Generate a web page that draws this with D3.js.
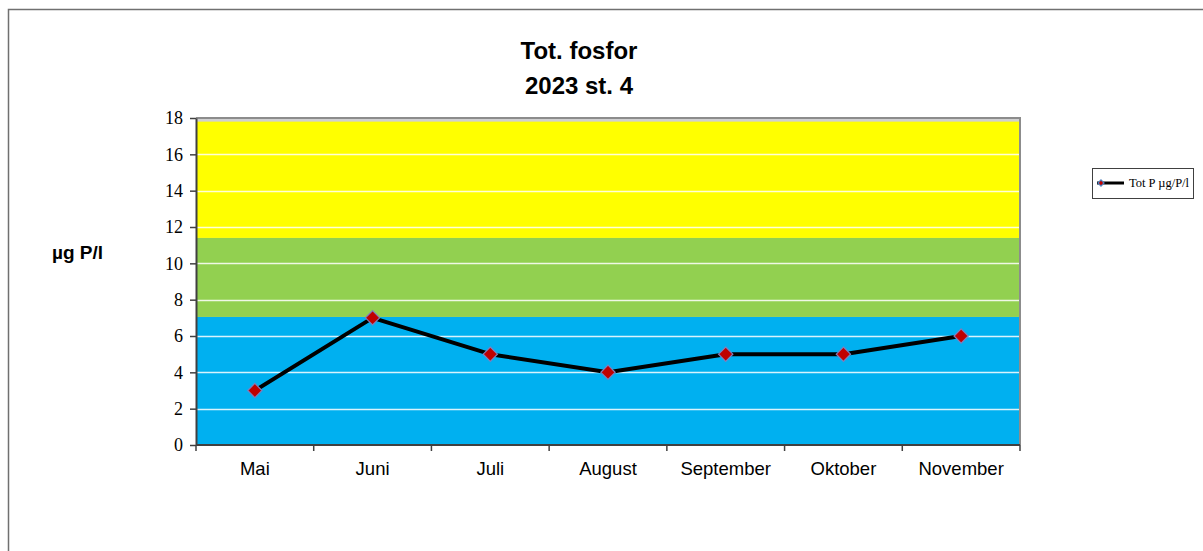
<!DOCTYPE html>
<html>
<head>
<meta charset="utf-8">
<script src="https://cdn.jsdelivr.net/npm/d3@7"></script>
<style>
  body { margin: 0; background: #fff; }
  svg { display: block; }
</style>
</head>
<body>
<div id="chart"></div>
<script>
var svgWidth = 1203;
var svgHeight = 551;

// data
var months = ["Mai", "Juni", "Juli", "August", "September", "Oktober", "November"];
var totP = [3, 7, 5, 4, 5, 5, 6];
var yTicks = [0, 2, 4, 6, 8, 10, 12, 14, 16, 18];
var bandLimits = [0, 7.05, 11.4, 17.8];
var bandColors = ["#00b0f0", "#92d050", "#ffff00"];

var plot = { left: 196, right: 1020, top: 118, bottom: 445 };

var svg = d3.select("#chart")
  .append("svg")
  .attr("width", svgWidth)
  .attr("height", svgHeight);

// outer frame (runs off the right and bottom edge)
svg.append("rect")
  .attr("x", 8.5)
  .attr("y", 9.5)
  .attr("width", 1300)
  .attr("height", 700)
  .attr("fill", "none")
  .attr("stroke", "#707070")
  .attr("stroke-width", 1.5);

var xScale = d3.scaleBand()
  .domain(months)
  .range([plot.left, plot.right]);

var yScale = d3.scaleLinear()
  .domain([0, 18])
  .range([plot.bottom, plot.top]);

// plot background
svg.append("rect")
  .attr("x", plot.left)
  .attr("y", plot.top)
  .attr("width", plot.right - plot.left)
  .attr("height", plot.bottom - plot.top)
  .attr("fill", "#d0d0d0");

// colour bands
svg.selectAll("rect.band")
  .data(bandColors)
  .enter()
  .append("rect")
  .attr("class", "band")
  .attr("x", plot.left)
  .attr("width", plot.right - plot.left)
  .attr("y", (d, i) => yScale(bandLimits[i + 1]))
  .attr("height", (d, i) => yScale(bandLimits[i]) - yScale(bandLimits[i + 1]))
  .attr("fill", d => d);

// gridlines
svg.selectAll("line.grid")
  .data(yTicks.slice(1, -1))
  .enter()
  .append("line")
  .attr("class", "grid")
  .attr("x1", plot.left)
  .attr("x2", plot.right)
  .attr("y1", d => Math.round(yScale(d)) + 0.5)
  .attr("y2", d => Math.round(yScale(d)) + 0.5)
  .attr("stroke", "#ffffff")
  .attr("stroke-opacity", 0.85)
  .attr("stroke-width", 1.5);

// top / right border
svg.append("path")
  .attr("d", `M${plot.left},${plot.top} H${plot.right} V${plot.bottom}`)
  .attr("fill", "none")
  .attr("stroke", "#8c8c8c")
  .attr("stroke-width", 2);

// y axis
var yAxis = svg.append("g")
  .attr("transform", `translate(${plot.left}, 0)`)
  .call(d3.axisLeft(yScale).tickValues(yTicks).tickSize(6).tickPadding(7).tickSizeOuter(0));
yAxis.select(".domain").attr("stroke", "#404040").attr("stroke-width", 2);
yAxis.selectAll(".tick line").attr("stroke", "#404040").attr("stroke-width", 1.5);
yAxis.selectAll("text")
  .attr("font-family", "'Liberation Serif', 'Times New Roman', serif")
  .attr("font-size", 18)
  .attr("fill", "#000");

// x axis with ticks between categories
var xAxis = svg.append("g")
  .attr("transform", `translate(0, ${plot.bottom})`);
xAxis.append("line")
  .attr("x1", plot.left)
  .attr("x2", plot.right)
  .attr("y1", 0)
  .attr("y2", 0)
  .attr("stroke", "#404040")
  .attr("stroke-width", 2);
xAxis.selectAll("line.tick")
  .data(months.map(m => xScale(m)).concat([plot.right]))
  .enter()
  .append("line")
  .attr("class", "tick")
  .attr("x1", d => d)
  .attr("x2", d => d)
  .attr("y1", 0)
  .attr("y2", 6)
  .attr("stroke", "#404040")
  .attr("stroke-width", 1.5);
xAxis.selectAll("text")
  .data(months)
  .enter()
  .append("text")
  .attr("x", d => xScale(d) + xScale.bandwidth() / 2)
  .attr("y", 30)
  .attr("text-anchor", "middle")
  .attr("font-family", "'Liberation Sans', Arial, sans-serif")
  .attr("font-size", 18.5)
  .attr("fill", "#000")
  .text(d => d);

// series line
var line = d3.line()
  .x((d, i) => xScale(months[i]) + xScale.bandwidth() / 2)
  .y(d => yScale(d));

svg.append("path")
  .datum(totP)
  .attr("d", line)
  .attr("fill", "none")
  .attr("stroke", "#000")
  .attr("stroke-width", 4)
  .attr("stroke-linejoin", "round");

var diamond = d3.symbol().type(d3.symbolDiamond2).size(130);

svg.selectAll("path.marker")
  .data(totP)
  .enter()
  .append("path")
  .attr("class", "marker")
  .attr("d", diamond)
  .attr("transform", (d, i) => `translate(${xScale(months[i]) + xScale.bandwidth() / 2}, ${yScale(d)})`)
  .attr("fill", "#c00000")
  .attr("stroke", "#7f7fbf")
  .attr("stroke-width", 1.2);

// title
var title = svg.append("text")
  .attr("text-anchor", "middle")
  .attr("font-family", "'Liberation Sans', Arial, sans-serif")
  .attr("font-weight", "bold")
  .attr("font-size", 24)
  .attr("fill", "#000");
title.append("tspan").attr("x", 579).attr("y", 59).text("Tot. fosfor");
title.append("tspan").attr("x", 579).attr("y", 94).text("2023 st. 4");

// y label
svg.append("text")
  .attr("x", 52)
  .attr("y", 259)
  .attr("font-family", "'Liberation Sans', Arial, sans-serif")
  .attr("font-weight", "bold")
  .attr("font-size", 19)
  .attr("fill", "#000")
  .text("µg P/l");

// legend
var legend = svg.append("g");
legend.append("rect")
  .attr("x", 1092.5)
  .attr("y", 168.5)
  .attr("width", 101)
  .attr("height", 30)
  .attr("fill", "#fff")
  .attr("stroke", "#404040")
  .attr("stroke-width", 1);
legend.append("line")
  .attr("x1", 1097)
  .attr("x2", 1124)
  .attr("y1", 183)
  .attr("y2", 183)
  .attr("stroke", "#000")
  .attr("stroke-width", 3);
legend.append("path")
  .attr("d", d3.symbol().type(d3.symbolDiamond2).size(24))
  .attr("transform", "translate(1101, 183)")
  .attr("fill", "#c00000")
  .attr("stroke", "#4f81bd")
  .attr("stroke-width", 1.2);
legend.append("text")
  .attr("x", 1129)
  .attr("y", 187)
  .attr("font-family", "'Liberation Serif', 'Times New Roman', serif")
  .attr("font-size", 12.5)
  .attr("fill", "#000")
  .text("Tot P µg/P/l");
</script>
</body>
</html>
